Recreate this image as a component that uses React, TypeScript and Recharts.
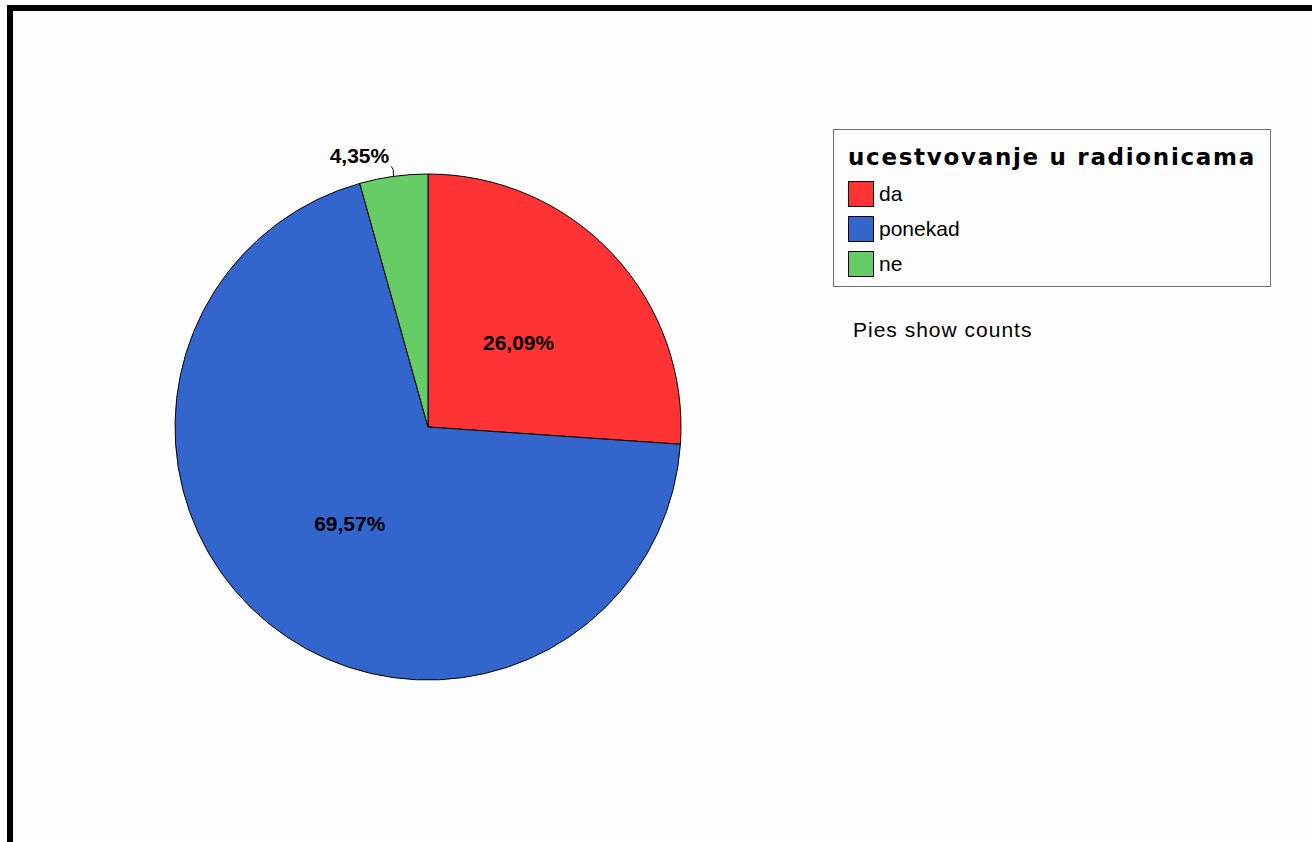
import React from 'react'
import { PieChart, Pie, Cell, Legend } from 'recharts'

// ucestvovanje u radionicama (counts, n = 23)
const categories = ['da', 'ponekad', 'ne']
const counts = [6, 16, 1]
const colors = ['#FF3333', '#3366CC', '#66CC66']
const legendTitle = 'ucestvovanje u radionicama'
const footnote = 'Pies show counts'

const data = categories.map((name, i) => ({ name, value: counts[i] }))

const RADIAN = Math.PI / 180

const fmtPct = (p: number) => (p * 100).toFixed(2).replace('.', ',') + '%'

const renderLabel = (props: any) => {
  const { cx, cy, midAngle, outerRadius, percent, index } = props
  const cos = Math.cos(-midAngle * RADIAN)
  const sin = Math.sin(-midAngle * RADIAN)
  const textStyle = { fontFamily: '"Liberation Sans", Arial, sans-serif', fontWeight: 700, fontSize: 21 }

  if (index === 2) {
    // small slice: label sits outside with a short tick
    const x1 = cx + outerRadius * cos
    const y1 = cy + outerRadius * sin
    const x2 = cx + (outerRadius + 10) * cos
    const y2 = cy + (outerRadius + 10) * sin
    return (
      <g>
        <path d={`M${x1},${y1} L${x2 + 1},${y2 + 3} L${x2 - 1},${y2}`} stroke="#000" fill="none" strokeWidth={1} />
        <text x={x2 - 3} y={y2 - 11} textAnchor="end" dominantBaseline="central" fill="#000" style={textStyle}>
          {fmtPct(percent)}
        </text>
      </g>
    )
  }

  const r = outerRadius * 0.49
  return (
    <text
      x={cx + r * cos}
      y={cy + r * sin}
      textAnchor="middle"
      dominantBaseline="central"
      fill="#000"
      style={textStyle}
    >
      {fmtPct(percent)}
    </text>
  )
}

const LegendBox = () => (
  <div
    style={{
      width: 438,
      height: 158,
      border: '1px solid #707070',
      boxSizing: 'border-box',
      position: 'relative',
      fontFamily: '"Liberation Sans", Arial, sans-serif',
    }}
  >
    <div
      style={{
        position: 'absolute',
        left: 14,
        top: 14,
        fontFamily: '"DejaVu Sans", Verdana, sans-serif',
        fontWeight: 700,
        fontSize: 23,
        letterSpacing: 1.7,
        whiteSpace: 'nowrap',
      }}
    >
      {legendTitle}
    </div>
    {categories.map((c, i) => (
      <div key={c} style={{ position: 'absolute', left: 14, top: 51 + i * 35, display: 'flex', alignItems: 'center' }}>
        <div style={{ width: 24, height: 24, background: colors[i], border: '1px solid #000' }} />
        <span style={{ marginLeft: 5, fontSize: 21, color: '#000' }}>{c}</span>
      </div>
    ))}
  </div>
)

export default function App() {
  return (
    <div style={{ position: 'absolute', left: 0, top: 0, width: 1312, height: 842, overflow: 'hidden', background: '#fdfdfd' }}>
      <div
        style={{
          position: 'absolute',
          left: 7,
          top: 5,
          width: 1400,
          height: 900,
          border: '6px solid #000',
          background: '#fdfdfd',
        }}
      />
      <div style={{ position: 'absolute', left: 0, top: 0 }}>
        <PieChart width={1312} height={842} margin={{ top: 0, right: 0, bottom: 0, left: 0 }}>
          <Pie
            data={data}
            dataKey="value"
            nameKey="name"
            cx={428}
            cy={427}
            outerRadius={253}
            startAngle={90}
            endAngle={-270}
            stroke="#000"
            strokeWidth={1}
            label={renderLabel}
            labelLine={false}
            isAnimationActive={false}
          >
            {data.map((d, i) => (
              <Cell key={d.name} fill={colors[i]} />
            ))}
          </Pie>
          <Legend
            content={() => <LegendBox />}
            wrapperStyle={{ left: 833, top: 129, width: 438, height: 158 }}
          />
        </PieChart>
      </div>
      <div
        style={{
          position: 'absolute',
          left: 853,
          top: 318,
          fontFamily: '"Liberation Sans", Arial, sans-serif',
          fontSize: 21,
          letterSpacing: 1,
          color: '#000',
        }}
      >
        {footnote}
      </div>
    </div>
  )
}
